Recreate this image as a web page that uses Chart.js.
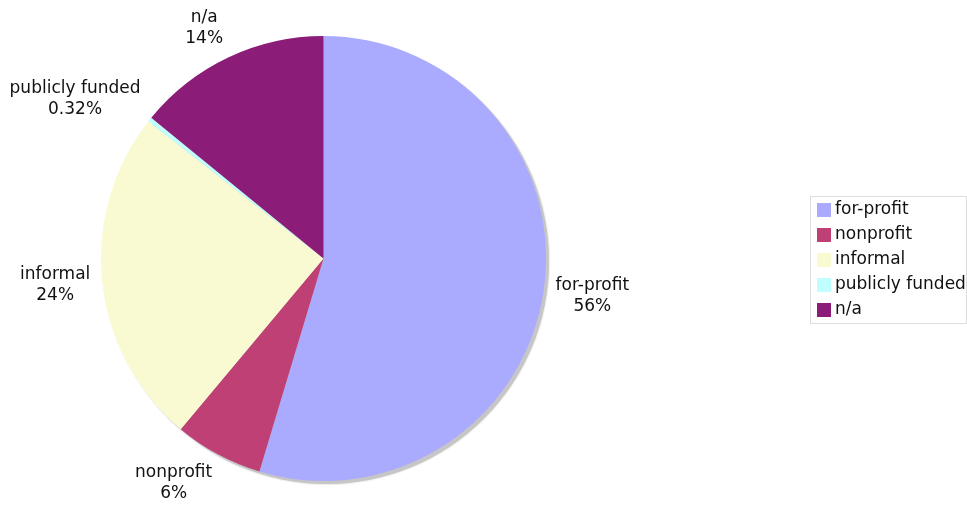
<!DOCTYPE html>
<html>
<head>
<meta charset="utf-8">
<script src="https://cdn.jsdelivr.net/npm/chart.js@4/dist/chart.umd.min.js"></script>
<style>
  html, body { margin: 0; padding: 0; background: #fff; }
  #wrap { width: 967px; height: 508px; }
</style>
</head>
<body>
<div id="wrap"><canvas id="pie" width="967" height="508"></canvas></div>
<script>
// slice data
const categories = ['for-profit', 'nonprofit', 'informal', 'publicly funded', 'n/a'];
const shares = [54.65, 6.44, 24.5, 0.32, 14.09];
const shareLabels = ['56%', '6%', '24%', '0.32%', '14%'];
const sliceColors = ['#aaaaff', '#be4074', '#fafad2', '#c0ffff', '#8b1c77'];

const FONT = '17px "DejaVu Sans", Verdana, sans-serif';

// gray drop shadow under the pie
const shadowPlugin = {
    id: 'pieShadow',
    beforeDatasetsDraw(chart) {
        const arc = chart.getDatasetMeta(0).data[0];
        if (!arc) return;
        const ctx = chart.ctx;
        ctx.save();
        ctx.beginPath();
        ctx.arc(arc.x + 3, arc.y + 3, arc.outerRadius, 0, Math.PI * 2);
        ctx.fillStyle = '#c6c6c6';
        ctx.shadowColor = 'rgba(0,0,0,0.25)';
        ctx.shadowBlur = 2;
        ctx.fill();
        ctx.restore();
    }
};

// category + percent labels outside each slice
const outsideLabels = {
    id: 'outsideLabels',
    afterDatasetsDraw(chart) {
        const ctx = chart.ctx;
        const lineH = 21;
        ctx.save();
        ctx.font = FONT;
        ctx.fillStyle = '#111';
        ctx.textAlign = 'center';
        ctx.textBaseline = 'middle';
        chart.getDatasetMeta(0).data.forEach((arc, i) => {
            const mid = (arc.startAngle + arc.endAngle) / 2;
            const dx = Math.cos(mid), dy = Math.sin(mid);
            const ax = arc.x + dx * (arc.outerRadius + 12);
            const ay = arc.y + dy * (arc.outerRadius + 12);
            const lines = [categories[i], shareLabels[i]];
            const w = Math.max(...lines.map(t => ctx.measureText(t).width));
            const h = lineH * 2;
            const cx = ax + Math.sign(dx) * w / 2;
            const cy = ay + dy * h / 2;
            ctx.fillText(lines[0], cx, cy - lineH / 2);
            ctx.fillText(lines[1], cx, cy + lineH / 2);
        });
        ctx.restore();
    }
};

// boxed legend on the right
const boxLegend = {
    id: 'boxLegend',
    afterDraw(chart) {
        const ctx = chart.ctx;
        const left = 810, top = 196, width = 156, height = 127;
        ctx.save();
        ctx.strokeStyle = '#dddddd';
        ctx.lineWidth = 1;
        ctx.strokeRect(left + 0.5, top + 0.5, width, height);
        ctx.font = FONT;
        ctx.textBaseline = 'middle';
        ctx.textAlign = 'left';
        categories.forEach((name, i) => {
            const y = top + 14 + i * 25;
            ctx.fillStyle = sliceColors[i];
            ctx.fillRect(left + 7, y - 7, 14, 14);
            ctx.fillStyle = '#111';
            ctx.fillText(name, left + 25, y);
        });
        ctx.restore();
    }
};

new Chart(document.getElementById('pie').getContext('2d'), {
    type: 'pie',
    data: {
        labels: categories,
        datasets: [{
            data: shares,
            backgroundColor: sliceColors,
            borderWidth: 0
        }]
    },
    options: {
        responsive: false,
        animation: false,
        layout: {
            padding: { left: 100, right: 420, top: 36, bottom: 27 }
        },
        plugins: {
            legend: { display: false },
            tooltip: { enabled: false }
        }
    },
    plugins: [shadowPlugin, outsideLabels, boxLegend]
});
</script>
</body>
</html>
